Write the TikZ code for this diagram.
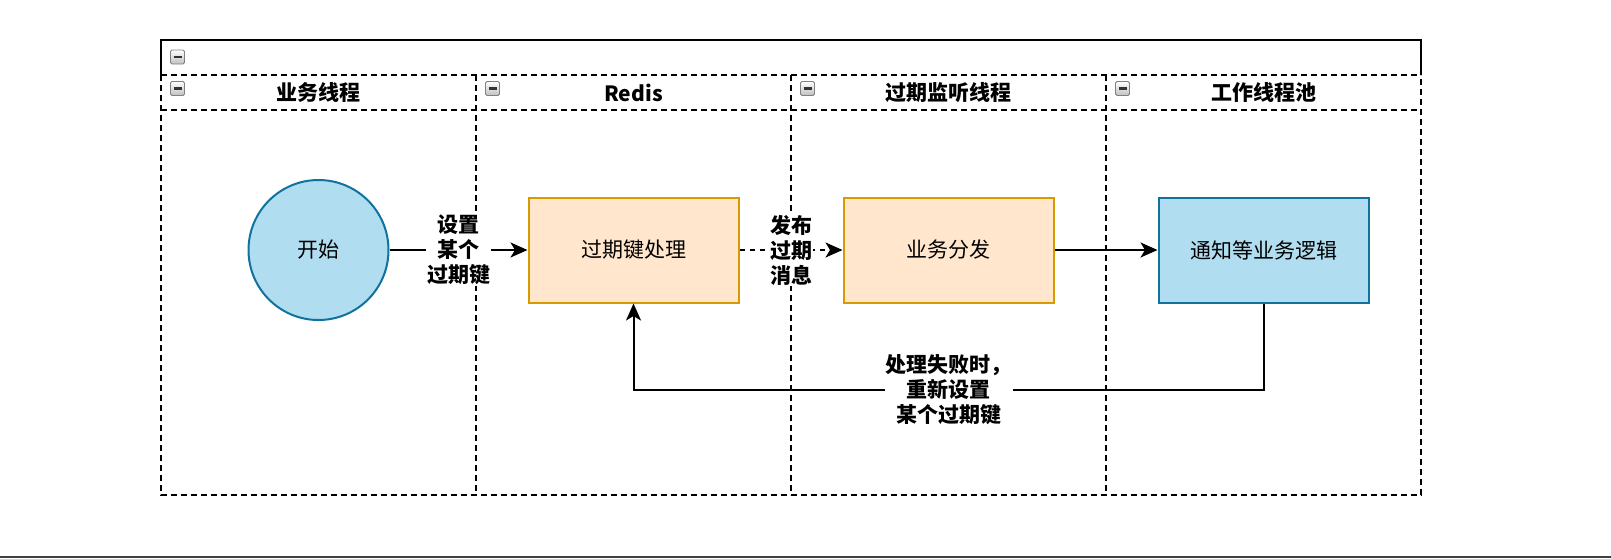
\documentclass[tikz,border=0pt]{standalone}
\usepackage{fontspec}
\setmainfont{Noto Sans CJK SC}
\usetikzlibrary{arrows.meta}

\definecolor{azulfondo}{HTML}{B1DDF0}
\definecolor{azulborde}{HTML}{10739E}
\definecolor{naranjafondo}{HTML}{FFE6CC}
\definecolor{naranjaborde}{HTML}{D79B00}

\tikzset{
  carril/.style={line width=1.75, dash pattern=on 6pt off 4pt},
  caja/.style={draw=naranjaborde, fill=naranjafondo, line width=2,
    minimum width=210, minimum height=105, inner sep=0,
    font=\fontsize{21}{25}\selectfont},
  cajaazul/.style={caja, draw=azulborde, fill=azulfondo},
  inicio/.style={circle, draw=azulborde, fill=azulfondo, line width=2,
    minimum size=140, inner sep=0, font=\fontsize{21}{25}\selectfont},
  titulo/.style={font=\fontsize{21}{25}\selectfont\bfseries},
  etiqueta/.style={fill=white, inner sep=1, align=center,
    font=\fontsize{21}{25}\selectfont\bfseries},
  flecha/.style={line width=2, -{Stealth[length=17, width=15, inset=4.5]}},
  menos/.pic={
    \draw[draw=gray, top color=white, bottom color=gray!50, line width=0.9,
      rounded corners=1.5] (-7,-7) rectangle (7,7);
    \draw[line width=2.2, black!80] (-4,0) -- (4,0);
  }
}

\begin{document}
\begin{tikzpicture}[x=1pt, y=-1pt]
        % Fija el marco de la imagen.
        \useasboundingbox (0,0) rectangle (1611,558);
        \fill[black!75] (0,556) rectangle (1611,558);

        % Dibuja el contenedor y las cabeceras.
        \draw[line width=1.75] (161,75) -- (161,40) -- (1421,40) -- (1421,75);
        \draw[carril] (161,75) -- (161,495) -- (1421,495) -- (1421,75);
        \draw[carril] (161,75) -- (1421,75);
        \draw[carril] (161,110) -- (1421,110);

        % Divide los carriles.
        \foreach \x in {476,791,1106}
            \draw[carril] (\x,75) -- (\x,495);

        % Iconos para plegar.
        \pic at (177.5,57) {menos};
        \foreach \x in {161,476,791,1106}
            \pic at (\x+16.5,88.5) {menos};

        % Títulos de los carriles.
        \node[titulo] (t1) at (318.5,92.5) {业务线程};
        \node[titulo] (t2) at (633.5,92.5) {Redis};
        \node[titulo] (t3) at (948.5,92.5) {过期监听线程};
        \node[titulo] (t4) at (1263.5,92.5) {工作线程池};

        % Nodos del proceso.
        \node[inicio] (inicio) at (318.5,250) {开始};
        \node[caja] (proceso) at (633.5,250) {过期键处理};
        \node[caja] (reparto) at (948.5,250) {业务分发};
        \node[cajaazul] (aviso) at (1263.5,250) {通知等业务逻辑};
        \coordinate (retorno) at (948.5,390);

        % Conectores con sus etiquetas.
        \draw[flecha] (inicio) -- node[etiqueta] {设置\\某个\\过期键} (proceso);
        \draw[flecha, dash pattern=on 5pt off 5pt] (proceso) -- node[etiqueta] {发布\\过期\\消息} (reparto);
        \draw[flecha] (reparto) -- (aviso);
        \draw[flecha] (aviso.south) -- (aviso.south |- retorno)
            -- node[etiqueta] {处理失败时，\\重新设置\\某个过期键} (proceso.south |- retorno)
            -- (proceso.south);
\end{tikzpicture}
\end{document}
